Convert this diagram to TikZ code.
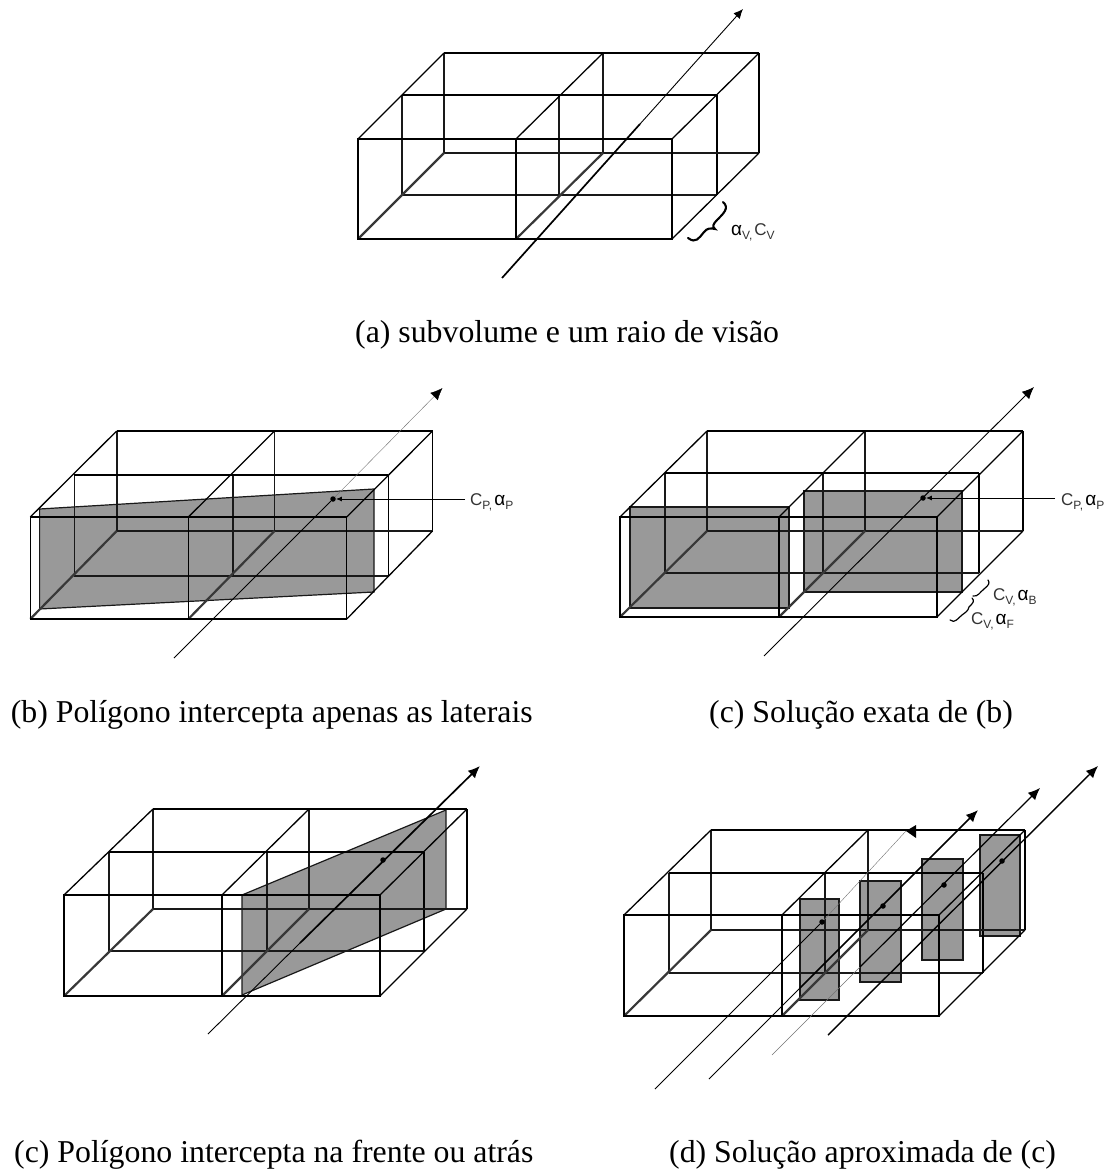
\documentclass[tikz,border=0pt]{standalone}
\usepackage{fontspec}
\setmainfont{Liberation Serif}
\newfontfamily\lblfont{Liberation Sans}
\usetikzlibrary{arrows.meta}
\definecolor{polygrey}{HTML}{999999}
\tikzset{
  edge/.style={black,line width=1.3pt},
  inner/.style={black!90,line width=1.7pt},
  floorline/.style={black!78,line width=2.2pt},
  poly/.style={fill=polygrey,draw=black!90,line width=1.2pt},
  ray/.style={black,line width=.9pt},
  rayheavy/.style={black,line width=1.7pt},
  rayfaint/.style={black!55,line width=.4pt},
  head/.style={-{Latex[black,length=9.5pt,width=8.5pt]}},
  headbig/.style={-{Latex[black,length=12pt,width=10.5pt]}},
  dotmark/.style={circle,fill=black,inner sep=0pt,minimum size=5.5pt},
  caption/.style={inner sep=0pt,anchor=base west,font=\fontsize{31.8}{36}\selectfont},
  lbl/.style={inner sep=0pt,anchor=base west,text=black!80,font=\lblfont\fontsize{17}{19}\selectfont},
  brace/.style={black,line width=2.1pt,line cap=round},
  smallbrace/.style={black,line width=1.2pt,line cap=round}
}
% a layer of the double box: left, partition, right, top, bottom
\newcommand{\layerpts}[6]{%
  \coordinate (#1tl) at (#2,#5); \coordinate (#1tp) at (#3,#5); \coordinate (#1tr) at (#4,#5);
  \coordinate (#1bl) at (#2,#6); \coordinate (#1bp) at (#3,#6); \coordinate (#1br) at (#4,#6);}
\newcommand{\sublbl}[1]{\raisebox{-4pt}{\fontsize{12}{12}\selectfont #1}}
\newcommand{\alphaglyph}{{\fontsize{19}{19}\selectfont\color{black}\char"03B1}}
\newcommand{\frameof}[3]{%
  % rear layers
  \draw[inner] (#2tl) -- (#2bl); \draw[inner] (#2tp) -- (#2bp);
  \draw[inner] (#3tl) -- (#3bl); \draw[inner] (#3tp) -- (#3bp);
  \draw[edge] (#2tr) -- (#2br); \draw[edge] (#3tr) -- (#3br);
  \draw[inner] (#2bl) -- (#2br); \draw[inner] (#3bl) -- (#3br);
  \draw[edge] (#2tl) -- (#2tr); \draw[edge] (#3tl) -- (#3tr);
  % depth edges
  \draw[edge] (#1tl) -- (#3tl); \draw[edge] (#1tp) -- (#3tp);
  \draw[edge] (#1tr) -- (#3tr); \draw[edge] (#1br) -- (#3br);
  \draw[floorline] (#1bl) -- (#3bl); \draw[floorline] (#1bp) -- (#3bp);
  % front layer
  \draw[edge] (#1tl) rectangle (#1br); \draw[edge] (#1tp) -- (#1bp);}
\begin{document}
\begin{tikzpicture}[x=1pt,y=-1pt]
\useasboundingbox (0,0) rectangle (1106,1169);

% ---------- (a)
\layerpts{af}{358}{516}{672}{139}{239}
\layerpts{am}{402}{559}{717}{95}{195}
\layerpts{ab}{444}{603}{759}{53}{153}
\frameof{af}{am}{ab}
\coordinate (aS) at (502,278); \coordinate (aM) at (640,124); \coordinate (aE) at (743,9);
\draw[rayheavy] (aS) -- (aM);
\draw[ray,head] (aM) -- (aE);
\coordinate (aB1) at (688,238); \coordinate (aBt) at (715,229); \coordinate (aB2) at (723,202);
\draw[brace] (aB1) .. controls (696,244) and (699,238) .. (704,232)
  .. controls (707,228) and (711,228) .. (aBt)
  .. controls (712,227) and (713,224) .. (717,220)
  .. controls (723,214) and (730,208) .. (aB2);
\node[lbl] (aL) at (731,235) {\alphaglyph\sublbl{V,\,}C\sublbl{V}};
\node[caption] (capa) at (355,342) {(a) subvolume e um raio de visão};

% ---------- (b)
\coordinate (bP1) at (39.6,509); \coordinate (bP2) at (374,489); \coordinate (bP3) at (374,592); \coordinate (bP4) at (39.6,609);
\draw[poly] (bP1) -- (bP2) -- (bP3) -- (bP4) -- cycle;
\layerpts{bf}{30.3}{188.4}{346.8}{517}{619}
\layerpts{bm}{74.4}{232.8}{388.4}{475}{576}
\layerpts{bb}{116.7}{274.5}{432.5}{431}{531}
\frameof{bf}{bm}{bb}
\coordinate (bS) at (174,658); \coordinate (bE) at (442.5,388); \coordinate (bA) at (465,499);
\node[dotmark] (bD) at (333,499) {};
\draw[ray] (bS) -- (bD);
\draw[rayfaint,headbig] (bD) -- (bE);
\node[lbl] (bL) at (470,505) {C\sublbl{P,\,}\alphaglyph\sublbl{P}};
\draw[ray,-{Latex[black,length=6pt,width=5pt]}] (bA) -- (bD.east);
\node[caption] (capb) at (10.6,722) {(b) Polígono intercepta apenas as laterais};

% ---------- (c) exact
\coordinate (cR1a) at (630,507); \coordinate (cR1b) at (789,608);
\coordinate (cR2a) at (804,491); \coordinate (cR2b) at (962,592);
\draw[poly] (cR1a) rectangle (cR1b);
\draw[poly] (cR2a) rectangle (cR2b);
\layerpts{cf}{620}{779}{937}{517}{617}
\layerpts{cm}{665}{823}{979}{473}{573}
\layerpts{cb}{707}{865}{1023}{431}{531}
\frameof{cf}{cm}{cb}
\coordinate (cS) at (764,656); \coordinate (cE) at (1034,387); \coordinate (cA) at (1055,498);
\node[dotmark] (cD) at (923,498) {};
\draw[ray,headbig] (cS) -- (cE);
\node[lbl] (cL) at (1061,505) {C\sublbl{P,\,}\alphaglyph\sublbl{P}};
\draw[ray,-{Latex[black,length=6pt,width=5pt]}] (cA) -- (cD.east);
\coordinate (cB1) at (973,596); \coordinate (cB2) at (988,580); \coordinate (cB3) at (950,620); \coordinate (cB4) at (972,598);
\draw[smallbrace] (cB1) .. controls (978,597) and (980,592) .. (984,589) .. controls (989,585) and (990,583) .. (cB2);
\draw[smallbrace] (cB3) .. controls (955,624) and (958,618) .. (962,615) .. controls (966,612) and (968,611) .. (969,607) .. controls (973,603) and (975,601) .. (cB4);
\node[lbl] (cLb) at (993,600) {C\sublbl{V,\,}\alphaglyph\sublbl{B}};
\node[lbl] (cLf) at (971,624) {C\sublbl{V,\,}\alphaglyph\sublbl{F}};
\node[caption] (capc) at (709,722) {(c) Solução exata de (b)};

% ---------- (c) front/back
\coordinate (dP1) at (242,895); \coordinate (dP2) at (446,810); \coordinate (dP3) at (446,909); \coordinate (dP4) at (242,995);
\draw[poly] (dP1) -- (dP2) -- (dP3) -- (dP4) -- cycle;
\layerpts{df}{64}{222}{380}{895}{996}
\layerpts{dm}{109}{267}{424}{852}{951}
\layerpts{db}{153}{309}{467}{809}{909}
\frameof{df}{dm}{db}
\coordinate (dS) at (208,1034); \coordinate (dE) at (480,766); \coordinate (dM) at (300,943);
\node[dotmark] (dD) at (383,860) {};
\draw[ray] (dS) -- (dM);
\draw[rayheavy,headbig] (dM) -- (dE);
\node[caption] (capd) at (14,1162) {(c) Polígono intercepta na frente ou atrás};

% ---------- (d)
\coordinate (eR1a) at (800,899); \coordinate (eR1b) at (839,1000);
\coordinate (eR2a) at (860,881); \coordinate (eR2b) at (901,982);
\coordinate (eR3a) at (922,859); \coordinate (eR3b) at (963,960);
\coordinate (eR4a) at (980,835); \coordinate (eR4b) at (1020,936);
\draw[poly] (eR1a) rectangle (eR1b);
\draw[poly] (eR2a) rectangle (eR2b);
\draw[poly] (eR3a) rectangle (eR3b);
\draw[poly] (eR4a) rectangle (eR4b);
\layerpts{ef}{624}{782}{939}{915}{1016}
\layerpts{em}{669}{825}{983}{873}{973}
\layerpts{eb}{711}{868}{1025}{830}{930}
\frameof{ef}{em}{eb}
\coordinate (e1S) at (655,1089); \coordinate (e1E) at (906,831); \coordinate (e1H1) at (916,825); \coordinate (e1H2) at (916,838);
\coordinate (e2S) at (709,1079); \coordinate (e2M) at (800,988); \coordinate (e2E) at (978,810);
\coordinate (e3S) at (772,1055); \coordinate (e3M) at (860,967); \coordinate (e3E) at (1040,788);
\coordinate (e4S) at (828,1035); \coordinate (e4E) at (1098,766);
\node[dotmark] (e1D) at (822,922) {};
\node[dotmark] (e2D) at (883,906) {};
\node[dotmark] (e3D) at (944,885) {};
\node[dotmark] (e4D) at (1002,861) {};
\draw[ray] (e1S) -- (e1D);
\draw[rayfaint] (e1D) -- (e1E);
\fill[black] (e1E) -- (e1H1) -- (e1H2) -- cycle;
\draw[ray] (e2S) -- (e2M);
\draw[rayheavy,headbig] (e2M) -- (e2E);
\draw[rayfaint] (e3S) -- (e3M);
\draw[ray,line width=1.2pt,headbig] (e3M) -- (e3E);
\draw[ray,line width=1.4pt,headbig] (e4S) -- (e4E);
\node[caption] (cape) at (669,1162) {(d) Solução aproximada de (c)};
\end{tikzpicture}
\end{document}
